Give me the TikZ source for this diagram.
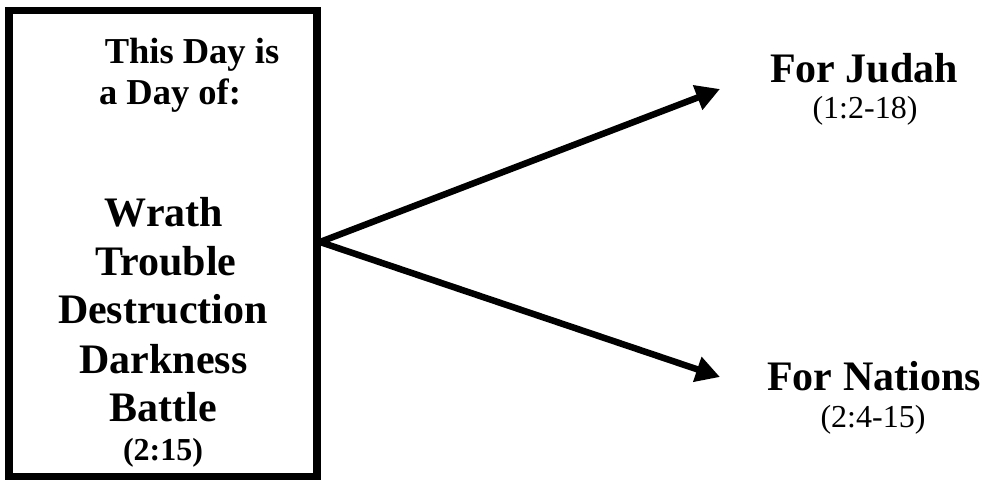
\documentclass[tikz,border=0pt]{standalone}
\usepackage{fontspec}
\setmainfont{Liberation Serif}
\usetikzlibrary{arrows.meta}
\tikzset{
  boxframe/.style={draw=black, line width=7.5pt, minimum width=308pt, minimum height=466pt, inner sep=0pt},
  bigword/.style={anchor=base, inner sep=0pt, font=\fontsize{42}{48}\selectfont\bfseries},
  headword/.style={anchor=base, inner sep=0pt, font=\fontsize{36.5}{42}\selectfont\bfseries},
  refbold/.style={anchor=base, inner sep=0pt, font=\fontsize{32}{38}\selectfont\bfseries},
  refplain/.style={anchor=base, inner sep=0pt, font=\fontsize{32}{38}\selectfont},
  bigarrow/.style={line width=6.5pt, -{Triangle[length=24pt,width=25pt]}}
}
\begin{document}
\begin{tikzpicture}[x=1pt,y=-1pt]
\useasboundingbox (0,0) rectangle (986,483);
\node[boxframe] (box) at (163,243.5) {};
\node[headword] (l1) at (192,63) {This Day is};
\node[headword] (l2) at (170,104) {a Day of:};
\node[bigword] (w1) at (164,226) {Wrath};
\node[bigword] (w2) at (166,275) {Trouble};
\node[bigword] (w3) at (163,323) {Destruction};
\node[bigword] (w4) at (163.5,373) {Darkness};
\node[bigword] (w5) at (163,421) {Battle};
\node[refbold] (r0) at (163,460) {(2:15)};
\node[bigword] (judah) at (864,82) {For Judah};
\node[refplain] (rj) at (865,118) {(1:2-18)};
\node[bigword] (nations) at (874,390) {For Nations};
\node[refplain] (rn) at (873,427) {(2:4-15)};
\coordinate (apex) at (320,242);
\coordinate (jtip) at (720,89);
\coordinate (ntip) at (720,377);
\draw[bigarrow] (apex) -- (jtip);
\draw[bigarrow] (apex) -- (ntip);
\end{tikzpicture}
\end{document}
